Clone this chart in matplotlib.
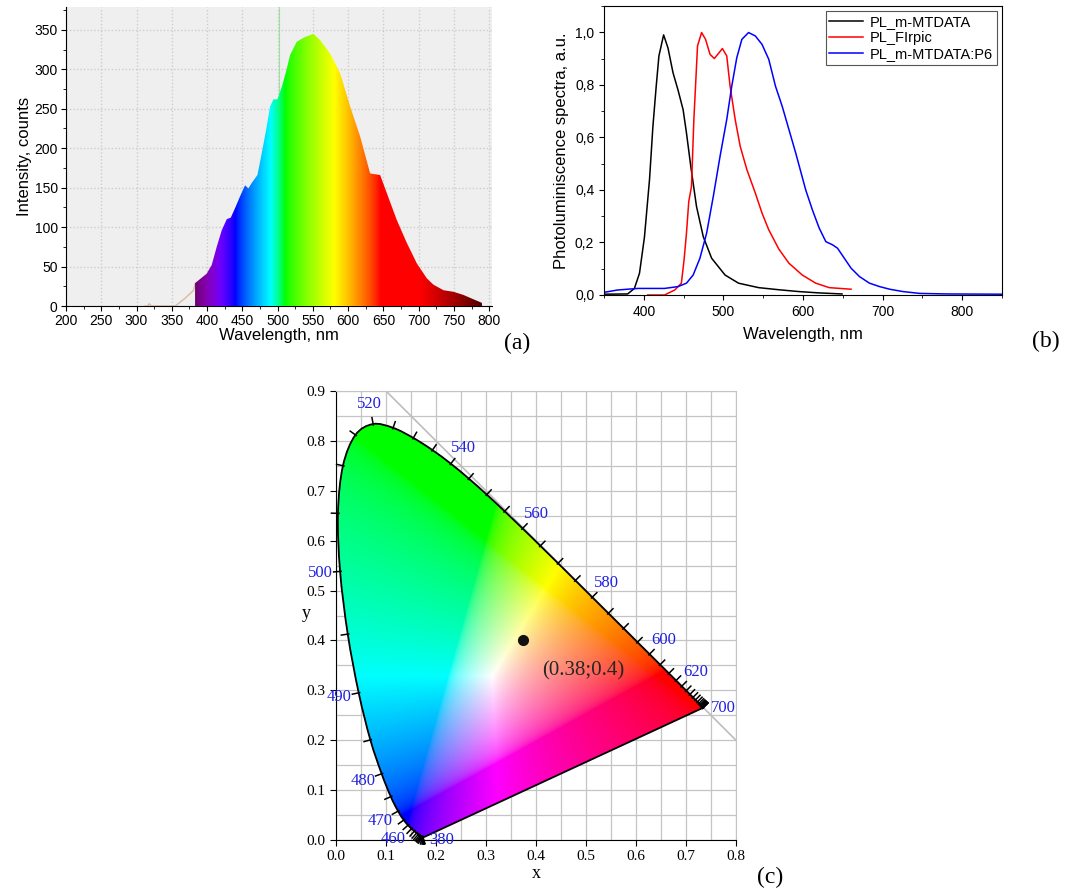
import numpy as np
import matplotlib.pyplot as plt
from matplotlib.patches import Polygon, PathPatch
from matplotlib.path import Path
from matplotlib.ticker import MultipleLocator, FuncFormatter

# ---- (a) emission spectrum of the device
spec_nm = [383, 399.5, 406.6, 413.7, 420.8, 427.9, 433.6, 439.7, 446.8, 453.9, 458.6,
           463.4, 471.4, 477.6, 483.7, 489.4, 494.1, 499.8, 506, 512, 517.7, 527.2,
           539, 550.8, 560.3, 574.5, 588.7, 602.8, 617, 631.2, 645.4, 654.9, 669,
           683.2, 697.4, 711.6, 721, 735.2, 749.4, 763.5, 777.7, 789.6]
spec_counts = [29, 41, 52, 75, 96, 110, 112, 124, 139, 153, 149, 156, 166, 194, 223,
               253, 262, 262, 278, 297, 318, 335, 341, 345, 337, 320, 295, 253, 215,
               168, 166, 143, 109, 80, 54, 35, 27, 20, 18, 14, 8.5, 4]
tail_nm = [312, 316, 318, 321, 355, 369, 381, 383]
tail_counts = [0, 0, 3, 0, 0, 10, 20, 28]

# ---- (b) normalised PL spectra
mt_nm = [348, 379.7, 388.2, 394.6, 400.8, 407.2, 411.4, 415.6, 419, 424.9, 430.4,
         436.7, 443, 449.4, 453.6, 459, 466.2, 474.7, 485.2, 502.1, 519, 544.3,
         569.6, 595, 620, 649]
mt_pl = [0.003, 0.004, 0.025, 0.083, 0.22, 0.44, 0.64, 0.795, 0.91, 0.99, 0.94,
         0.846, 0.78, 0.705, 0.617, 0.49, 0.337, 0.222, 0.14, 0.076, 0.045, 0.028,
         0.02, 0.013, 0.008, 0.004]
fi_nm = [405, 426, 438.9, 447.2, 450.6, 453.6, 456.5, 459.9, 462.9, 465.4, 467.5,
         472.6, 477.6, 483.2, 488.6, 494.5, 498.7, 504.2, 508.4, 514.8, 521.1, 529.5,
         540.1, 548.5, 557, 569.6, 582.3, 599.1, 616, 632.9, 660.4]
fi_pl = [0.0, 0.0, 0.019, 0.045, 0.134, 0.235, 0.356, 0.413, 0.668, 0.82, 0.948,
         0.999, 0.973, 0.916, 0.9, 0.922, 0.938, 0.91, 0.795, 0.668, 0.566, 0.477,
         0.388, 0.312, 0.248, 0.175, 0.121, 0.076, 0.045, 0.028, 0.022]
p6_nm = [348, 367, 392.4, 426, 443, 453.6, 462, 470.5, 478.9, 487.3, 495.8, 504.2,
         510.5, 516.8, 523.2, 531.6, 540.1, 548.5, 557, 565.4, 573.8, 582.3, 590.8,
         603.4, 611.8, 620.3, 628.7, 637.1, 643.4, 651.9, 660.4, 671, 683.5, 696.2,
         708.9, 725.7, 746.8, 780.6, 851]
p6_pl = [0.009, 0.019, 0.025, 0.025, 0.032, 0.045, 0.076, 0.14, 0.235, 0.375, 0.528,
         0.668, 0.795, 0.903, 0.973, 0.999, 0.986, 0.954, 0.897, 0.795, 0.719, 0.63,
         0.541, 0.40, 0.324, 0.255, 0.203, 0.191, 0.178, 0.14, 0.102, 0.07, 0.045,
         0.032, 0.022, 0.013, 0.006, 0.004, 0.003]
pl_labels = ["PL_m-MTDATA", "PL_FIrpic", "PL_m-MTDATA:P6"]

# ---- (c) CIE 1931 spectral locus, 5 nm steps
cie_nm = list(range(380, 705, 5))
cie_x = [0.1741, 0.1740, 0.1738, 0.1736, 0.1733, 0.1730, 0.1726, 0.1721, 0.1714,
         0.1703, 0.1689, 0.1669, 0.1644, 0.1611, 0.1566, 0.1510, 0.1440, 0.1355,
         0.1241, 0.1096, 0.0913, 0.0687, 0.0454, 0.0235, 0.0082, 0.0039, 0.0139,
         0.0389, 0.0743, 0.1142, 0.1547, 0.1929, 0.2296, 0.2658, 0.3016, 0.3373,
         0.3731, 0.4087, 0.4441, 0.4788, 0.5125, 0.5448, 0.5752, 0.6029, 0.6270,
         0.6482, 0.6658, 0.6801, 0.6915, 0.7006, 0.7079, 0.7140, 0.7190, 0.7230,
         0.7260, 0.7283, 0.7300, 0.7311, 0.7320, 0.7327, 0.7334, 0.7340, 0.7344,
         0.7346, 0.7347]
cie_y = [0.0050, 0.0050, 0.0049, 0.0049, 0.0048, 0.0048, 0.0048, 0.0048, 0.0051,
         0.0058, 0.0069, 0.0086, 0.0109, 0.0138, 0.0177, 0.0227, 0.0297, 0.0399,
         0.0578, 0.0868, 0.1327, 0.2007, 0.2950, 0.4127, 0.5384, 0.6548, 0.7502,
         0.8120, 0.8338, 0.8262, 0.8059, 0.7816, 0.7543, 0.7243, 0.6923, 0.6589,
         0.6245, 0.5896, 0.5547, 0.5202, 0.4866, 0.4544, 0.4242, 0.3965, 0.3725,
         0.3514, 0.3340, 0.3197, 0.3083, 0.2993, 0.2920, 0.2859, 0.2809, 0.2770,
         0.2740, 0.2717, 0.2700, 0.2689, 0.2680, 0.2673, 0.2666, 0.2660, 0.2656,
         0.2654, 0.2653]
locus_labels = [380, 460, 470, 480, 490, 500, 520, 540, 560, 580, 600, 620, 700]
cie_point = (0.373, 0.40)
cie_text = "(0.38;0.4)"


def wl_rgb(w):
    w = np.asarray(w, float)
    r, g, b = np.zeros_like(w), np.zeros_like(w), np.zeros_like(w)
    m = w < 440; r[m] = -(w[m] - 440) / 60; b[m] = 1
    m = (w >= 440) & (w < 490); g[m] = (w[m] - 440) / 50; b[m] = 1
    m = (w >= 490) & (w < 510); g[m] = 1; b[m] = -(w[m] - 510) / 20
    m = (w >= 510) & (w < 580); r[m] = (w[m] - 510) / 70; g[m] = 1
    m = (w >= 580) & (w < 645); r[m] = 1; g[m] = -(w[m] - 645) / 65
    m = w >= 645; r[m] = 1
    f = np.ones_like(w)
    m = w < 420; f[m] = 0.3 + 0.7 * (w[m] - 380) / 40
    m = w > 700; f[m] = 0.3 + 0.7 * (780 - w[m]) / 80
    rgb = np.clip(np.stack([r, g, b], -1) * np.clip(f, 0.15, 1)[:, None], 0, 1)
    return rgb ** 0.8


def smooth_path(px, py):
    # Catmull-Rom through the locus points, closed by the purple line
    pts = np.column_stack([px, py])
    ext = np.vstack([pts[0], pts, pts[-1]])
    verts = [pts[0]]
    codes = [Path.MOVETO]
    for i in range(1, len(ext) - 2):
        p0, p1, p2, p3 = ext[i - 1], ext[i], ext[i + 1], ext[i + 2]
        verts += [p1 + (p2 - p0) / 6, p2 - (p3 - p1) / 6, p2]
        codes += [Path.CURVE4] * 3
    verts += [pts[0], pts[0]]
    codes += [Path.LINETO, Path.CLOSEPOLY]
    return Path(verts, codes)


W, H = 1066, 890
fig = plt.figure(figsize=(W / 100, H / 100), dpi=100)
sans = "Liberation Sans"
serif = "Liberation Serif"

# ================= (a)
ax = fig.add_axes([66 / W, 1 - 306 / H, (492 - 66) / W, (306 - 7) / H])
ax.set_facecolor("#efefef")
ax.set_xlim(200, 804)
ax.set_ylim(0, 379)
ax.grid(True, color="#cdcdcd", linestyle=(0, (1, 1.5)), linewidth=1.0)
ax.set_axisbelow(True)
ax.axvline(502, color="#9be09b", lw=0.8, zorder=1)
ax.plot(tail_nm, tail_counts, color="#dcb9a0", lw=1.0, zorder=2)
wl = np.linspace(383, 790, 800)
img = ax.imshow(wl_rgb(wl)[np.newaxis], extent=(383, 790, 0, 379), aspect="auto",
                origin="lower", zorder=3, interpolation="bilinear")
clip = Polygon(np.column_stack([[383] + spec_nm + [790], [0] + spec_counts + [0]]),
               transform=ax.transData, facecolor="none", edgecolor="none")
img.set_clip_path(clip)
for s in ["top", "right"]:
    ax.spines[s].set_visible(False)
ax.xaxis.set_major_locator(MultipleLocator(50))
ax.xaxis.set_minor_locator(MultipleLocator(25))
ax.yaxis.set_major_locator(MultipleLocator(50))
ax.yaxis.set_minor_locator(MultipleLocator(25))
ax.set_xticks(np.arange(200, 801, 50))
ax.tick_params(which="both", direction="out", labelsize=10, pad=2.5)
ax.tick_params(which="minor", length=2.5)
for t in ax.get_xticklabels() + ax.get_yticklabels():
    t.set_family(sans)
ax.set_xlabel("Wavelength, nm", family=sans, fontsize=12, labelpad=0)
ax.set_ylabel("Intensity, counts", family=sans, fontsize=12, labelpad=2)

# ================= (b)
bx = fig.add_axes([604 / W, 1 - 295 / H, (1002 - 604) / W, (295 - 6) / H])
bx.plot(mt_nm, mt_pl, color="black", lw=1.1, label=pl_labels[0])
bx.plot(fi_nm, fi_pl, color="red", lw=1.1, label=pl_labels[1])
bx.plot(p6_nm, p6_pl, color="blue", lw=1.1, label=pl_labels[2])
bx.set_xlim(350, 850)
bx.set_ylim(0, 1.1)
bx.xaxis.set_major_locator(MultipleLocator(100))
bx.xaxis.set_minor_locator(MultipleLocator(50))
bx.yaxis.set_major_locator(MultipleLocator(0.2))
bx.yaxis.set_minor_locator(MultipleLocator(0.1))
bx.yaxis.set_major_formatter(FuncFormatter(lambda v, p: f"{v:.1f}".replace(".", ",")))
bx.set_yticks(np.arange(0, 1.01, 0.2))
bx.tick_params(which="both", direction="out", labelsize=10)
bx.tick_params(which="minor", length=2.5)
for t in bx.get_xticklabels() + bx.get_yticklabels():
    t.set_family(sans)
bx.set_xlabel("Wavelength, nm", family=sans, fontsize=12, labelpad=6)
bx.set_ylabel("Photoluminiscence spectra, a.u.", family=sans, fontsize=12, labelpad=4)
leg = bx.legend(loc="upper right", prop={"family": sans, "size": 10.5}, fancybox=False,
                edgecolor="#555555", framealpha=1, handlelength=2.3,
                borderaxespad=0.35, labelspacing=0.15, borderpad=0.25,
                handletextpad=0.5)
leg.get_frame().set_linewidth(0.8)

# ================= (c)
cx = fig.add_axes([336 / W, 1 - 840 / H, 400 / W, 449 / H])
cx.set_xlim(0, 0.8)
cx.set_ylim(0, 0.9)
cx.xaxis.set_major_locator(MultipleLocator(0.1))
cx.yaxis.set_major_locator(MultipleLocator(0.1))
cx.xaxis.set_minor_locator(MultipleLocator(0.05))
cx.yaxis.set_minor_locator(MultipleLocator(0.05))
cx.grid(True, which="both", color="#c4c4c4", lw=0.9)
cx.set_axisbelow(True)
cx.tick_params(which="minor", length=0)
cx.tick_params(which="major", direction="out", length=4, labelsize=11)
for s in ["top", "right"]:
    cx.spines[s].set_color("#c4c4c4")
for t in cx.get_xticklabels() + cx.get_yticklabels():
    t.set_family(serif)
cx.xaxis.set_major_formatter(FuncFormatter(lambda v, p: f"{v:.1f}"))
cx.yaxis.set_major_formatter(FuncFormatter(lambda v, p: f"{v:.1f}"))

gx = np.linspace(0, 0.8, 560)
gy = np.linspace(0, 0.9, 630)
X, Y = np.meshgrid(gx, gy)
Yc = np.clip(Y, 1e-4, None)
xyz = np.stack([X / Yc, np.ones_like(X), (1 - X - Y) / Yc], axis=-1)
M = np.array([[3.2406, -1.5372, -0.4986],
              [-0.9689, 1.8758, 0.0415],
              [0.0557, -0.2040, 1.0570]])
rgb = np.clip(xyz @ M.T, 0, None)
rgb = rgb / np.clip(rgb.max(axis=-1, keepdims=True), 1e-9, None)
rgb = np.where(rgb <= 0.0031308, 12.92 * rgb, 1.055 * rgb ** (1 / 2.4) - 0.055)
rgb = np.clip(rgb, 0, 1)

lx = np.array(cie_x)
ly = np.array(cie_y)
diag_x = np.array([0.1, 0.8])
cx.plot(diag_x, 1 - diag_x, color="#bdbdbd", lw=1.2, zorder=0.8)
cim = cx.imshow(rgb, origin="lower", extent=(0, 0.8, 0, 0.9), aspect="auto", zorder=1,
                interpolation="bilinear")
locus = PathPatch(smooth_path(lx, ly), facecolor="none", edgecolor="black", lw=1.3,
                  zorder=3, transform=cx.transData)
cx.add_patch(locus)
cim.set_clip_path(locus)

# ticks and labels along the locus
tx = np.gradient(lx)
ty = np.gradient(ly)
nrm = np.hypot(tx, ty)
nx_, ny_ = -ty / nrm, tx / nrm
lab_kw = dict(color="#2020e0", family=serif, fontsize=12, zorder=5)
for i, nm in enumerate(cie_nm):
    cx.plot([lx[i] - nx_[i] * 0.002, lx[i] + nx_[i] * 0.013],
            [ly[i] - ny_[i] * 0.002, ly[i] + ny_[i] * 0.013],
            color="black", lw=1.1, zorder=4, clip_on=False)
    if nm not in locus_labels:
        continue
    if nm == 380:
        cx.text(lx[i] + 0.012, ly[i] - 0.006, str(nm), ha="left", va="center", **lab_kw)
    elif nm == 700:
        cx.text(lx[i] + 0.016, ly[i], str(nm), ha="left", va="center", **lab_kw)
    else:
        cx.text(lx[i] + nx_[i] * 0.04, ly[i] + ny_[i] * 0.04, str(nm),
                ha="center", va="center", **lab_kw)

cx.plot(*cie_point, "o", color="#111111", ms=7, zorder=6)
cx.text(cie_point[0] + 0.122, cie_point[1] - 0.061, cie_text, ha="center", va="center",
        family=serif, fontsize=15, color="#262626", zorder=6)
cx.set_xlabel("x", family=serif, fontsize=13, labelpad=1)
cx.set_ylabel("y", family=serif, fontsize=13, rotation=0, va="center")
cx.yaxis.set_label_coords(-0.075, 0.505)

# panel letters
fig.text(517 / W, 1 - 343 / H, "(a)", family=serif, fontsize=17, ha="center", va="center")
fig.text(1046 / W, 1 - 341 / H, "(b)", family=serif, fontsize=17, ha="center", va="center")
fig.text(770 / W, 1 - 877 / H, "(c)", family=serif, fontsize=17, ha="center", va="center")

fig.savefig("out.png", dpi=100)
